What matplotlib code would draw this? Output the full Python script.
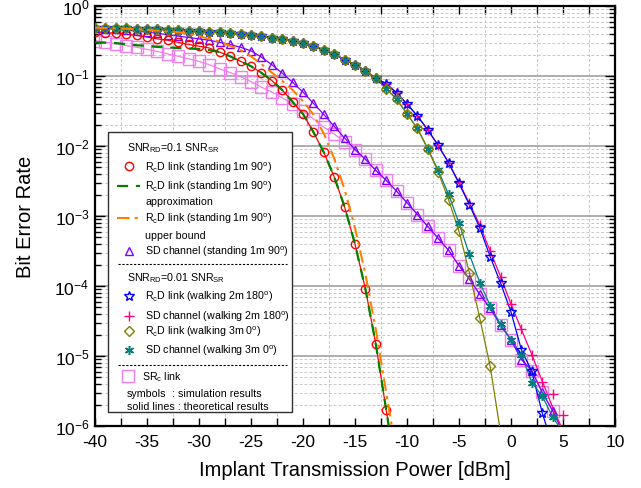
import matplotlib
matplotlib.use("Agg")
import matplotlib.pyplot as plt
import numpy as np
from matplotlib.patches import Rectangle
from matplotlib.ticker import LogLocator, MultipleLocator, NullFormatter

plt.rcParams["font.family"] = ["Liberation Sans", "DejaVu Sans"]
plt.rcParams["mathtext.fontset"] = "custom"
plt.rcParams["mathtext.rm"] = "Liberation Sans"
plt.rcParams["mathtext.it"] = "Liberation Sans:italic"
plt.rcParams["mathtext.bf"] = "Liberation Sans:bold"

# ---- data (BER vs implant power in dBm) ----
# SNR_RD = 0.1 SNR_SR, standing 1m 90 deg
rcd_stand_x = np.arange(-40, -11)
rcd_stand = [0.427, 0.417, 0.407, 0.394, 0.380, 0.359, 0.339, 0.324, 0.302, 0.282,
             0.266, 0.251, 0.219, 0.191, 0.162, 0.138, 0.111, 0.0861, 0.0631, 0.0427,
             0.0288, 0.0158, 8.13e-3, 3.63e-3, 1.35e-3, 3.98e-4, 9.12e-5, 1.48e-5, 1.70e-6]
rcd_stand_end = (-11.75, 1.0e-6)

approx_x = np.arange(-40, -11)
approx = [0.302, 0.299, 0.295, 0.285, 0.275, 0.269, 0.260, 0.257, 0.251, 0.247,
          0.243, 0.234, 0.219, 0.191, 0.162, 0.138, 0.111, 0.0861, 0.0631, 0.0427,
          0.0288, 0.0158, 8.13e-3, 3.63e-3, 1.35e-3, 3.98e-4, 9.12e-5, 1.48e-5, 1.70e-6]

upper_x = [-40, -36, -32, -30, -28, -26, -25, -24, -23, -22, -21, -20, -19, -18,
           -17, -16, -15, -14, -13, -12, -11.4]
upper = [0.490, 0.468, 0.422, 0.372, 0.309, 0.234, 0.191, 0.148, 0.112, 0.0851,
         0.0631, 0.0437, 0.0282, 0.0151, 6.61e-3, 2.40e-3, 6.76e-4, 1.48e-4, 2.40e-5,
         3.02e-6, 8.9e-7]

sd_stand_x = np.arange(-40, 5)
sd_stand = [0.479, 0.473, 0.468, 0.452, 0.437, 0.422, 0.407, 0.389, 0.372, 0.355,
            0.339, 0.324, 0.302, 0.282, 0.257, 0.229, 0.186, 0.145, 0.110, 0.0813,
            0.0589, 0.0407, 0.0282, 0.0191, 0.0130, 8.91e-3, 6.46e-3, 4.47e-3, 3.24e-3,
            2.26e-3, 1.55e-3, 1.05e-3, 7.08e-4, 4.79e-4, 3.24e-4, 1.95e-4, 1.26e-4,
            7.59e-5, 4.79e-5, 2.75e-5, 1.70e-5, 8.91e-6, 6.17e-6, 3.02e-6, 1.66e-6]
sd_stand_end = (4.7, 1.0e-6)

src_x = np.arange(-40, 5)
src = [0.321, 0.304, 0.288, 0.272, 0.257, 0.240, 0.224, 0.207, 0.191, 0.176,
       0.162, 0.145, 0.126, 0.112, 0.0977, 0.0832, 0.0692, 0.0589, 0.0490, 0.0398,
       0.0316, 0.0245, 0.0186, 0.0148, 0.0115, 8.71e-3, 6.46e-3, 4.47e-3, 3.24e-3,
       2.26e-3, 1.55e-3, 1.05e-3, 7.08e-4, 4.79e-4, 3.24e-4, 1.95e-4, 1.26e-4,
       7.59e-5, 4.79e-5, 2.75e-5, 1.70e-5, 8.91e-6, 6.17e-6, 3.02e-6, 1.66e-6]
src_end = (4.8, 1.0e-6)

# SNR_RD = 0.01 SNR_SR, walking; all four share the same high-BER part
walk_head = [0.490, 0.488, 0.484, 0.481, 0.476, 0.471, 0.466, 0.459, 0.452, 0.445,
             0.437, 0.429, 0.419, 0.407, 0.395, 0.382, 0.367, 0.351, 0.333, 0.313,
             0.292, 0.266, 0.237, 0.204, 0.172, 0.145, 0.119, 0.0933]

rcd_w2_x = np.arange(-40, 4)
rcd_w2 = walk_head + [0.0776, 0.0575, 0.0398, 0.0269, 0.0170, 0.0102, 5.75e-3,
                      2.92e-3, 1.45e-3, 6.76e-4, 2.63e-4, 1.10e-4, 4.27e-5, 1.23e-5,
                      6.03e-6, 1.55e-6]
rcd_w2_end = (3.4, 1.0e-6)

sd_w2_x = np.arange(-40, 6)
sd_w2 = walk_head + [0.0776, 0.0575, 0.0398, 0.0269, 0.0170, 0.0102, 5.75e-3,
                     3.02e-3, 1.51e-3, 7.41e-4, 3.16e-4, 1.36e-4, 5.50e-5, 2.40e-5,
                     1.05e-5, 4.27e-6, 2.88e-6, 1.45e-6]
# theory line leaves the last three simulation points
sd_w2_line_tail_x = [3, 4, 4.8]
sd_w2_line_tail = [4.37e-6, 1.86e-6, 1.0e-6]

rcd_w3_x = np.arange(-40, -1)
rcd_w3 = walk_head + [0.0661, 0.0468, 0.0288, 0.0178, 9.12e-3, 4.27e-3, 1.70e-3,
                      6.03e-4, 1.55e-4, 3.47e-5, 7.08e-6]
rcd_w3_end = (-1.1, 1.0e-6)

sd_w3_x = np.arange(-40, 5)
sd_w3 = walk_head + [0.0661, 0.0468, 0.0288, 0.0178, 9.12e-3, 4.47e-3, 2.04e-3,
                     7.94e-4, 2.82e-4, 1.12e-4, 5.25e-5, 2.82e-5, 1.70e-5, 1.05e-5,
                     4.17e-6, 2.69e-6, 1.35e-6]
sd_w3_end = (4.6, 1.0e-6)

x_ticks = [-40, -35, -30, -25, -20, -15, -10, -5, 0, 5, 10]

# colours / styles
C_RED = "#FF0000"
C_GREEN = "#008000"
C_ORANGE = "#FF8000"
C_PURPLE = "#8000FF"
C_VIOLET = "#F080F0"
C_BLUE = "#0000FF"
C_PINK = "#FF0080"
C_OLIVE = "#808000"
C_TEAL = "#008080"
ASTER = (6, 2, 0)

styles = {
    "src": dict(color=C_VIOLET, marker="s", ms=8, mfc="none", mew=1.0, lw=0.9),
    "rcd_stand": dict(color=C_RED, marker="o", ms=6, mfc="none", mew=1.0, lw=0.9),
    "sd_stand": dict(color=C_PURPLE, marker="^", ms=6, mfc="none", mew=1.0, lw=0.9),
    "rcd_w2": dict(color=C_BLUE, marker="*", ms=7.5, mfc="none", mew=1.0, lw=0.9),
    "sd_w2": dict(color=C_PINK, marker="+", ms=7, mew=1.0, lw=0.9),
    "rcd_w3": dict(color=C_OLIVE, marker="D", ms=4.8, mfc="none", mew=1.0, lw=0.9),
    "sd_w3": dict(color=C_TEAL, marker=ASTER, ms=6.5, mew=1.1, lw=0.9),
}


def marker_kw(style):
    return {k: v for k, v in style.items() if k != "lw"}


def line_and_marks(ax, x, y, style, tail_x=(), tail_y=(), z=3):
    ax.plot(list(x) + list(tail_x), list(y) + list(tail_y),
            color=style["color"], lw=style["lw"], zorder=z)
    ax.plot(x, y, ls="none", zorder=z + 0.5, **marker_kw(style))


fig = plt.figure(figsize=(6.41, 4.89), dpi=100)
ax = fig.add_axes([0.1482, 0.1268, 0.8112, 0.8589])
ax.set_yscale("log")

line_and_marks(ax, src_x, src, styles["src"], [src_end[0]], [src_end[1]], z=2)
line_and_marks(ax, sd_stand_x, sd_stand, styles["sd_stand"], [sd_stand_end[0]], [sd_stand_end[1]])
line_and_marks(ax, rcd_stand_x, rcd_stand, styles["rcd_stand"], [rcd_stand_end[0]], [rcd_stand_end[1]])
ax.plot(list(approx_x) + [rcd_stand_end[0]], approx + [rcd_stand_end[1]],
        color=C_GREEN, lw=1.6, dashes=(5, 3.5), zorder=5)
ax.plot(upper_x, upper, color=C_ORANGE, lw=1.5, dashes=(6, 2.5, 1.5, 2.5), zorder=5)

ax.plot(list(sd_w2_x[:-3]) + sd_w2_line_tail_x, sd_w2[:-3] + sd_w2_line_tail,
        color=C_PINK, lw=0.9, zorder=3)
ax.plot(sd_w2_x, sd_w2, ls="none", zorder=3.5, **marker_kw(styles["sd_w2"]))
line_and_marks(ax, rcd_w2_x, rcd_w2, styles["rcd_w2"], [rcd_w2_end[0]], [rcd_w2_end[1]])
line_and_marks(ax, sd_w3_x, sd_w3, styles["sd_w3"], [sd_w3_end[0]], [sd_w3_end[1]])
line_and_marks(ax, rcd_w3_x, rcd_w3, styles["rcd_w3"], [rcd_w3_end[0]], [rcd_w3_end[1]])

ax.set_xlim(-40, 10)
ax.set_ylim(1e-6, 1)
ax.set_xticks(x_ticks)
ax.set_xticklabels([str(t) for t in x_ticks])
ax.xaxis.set_minor_locator(MultipleLocator(2.5))
ax.yaxis.set_major_locator(LogLocator(base=10, numticks=10))
ax.yaxis.set_minor_locator(LogLocator(base=10, subs=np.arange(2, 10), numticks=100))
ax.yaxis.set_minor_formatter(NullFormatter())

ax.tick_params(which="both", direction="in", top=True, right=True, labelsize=12.5, width=1.0)
ax.tick_params(axis="x", which="both", length=6, pad=6)
ax.tick_params(axis="y", which="major", length=7, pad=4)
ax.tick_params(axis="y", which="minor", length=4)
for sp in ax.spines.values():
    sp.set_linewidth(1.6)

ax.set_axisbelow(True)
ax.yaxis.grid(True, which="major", color="#A8A8A8", lw=1.3, ls="-")
ax.yaxis.grid(True, which="minor", color="#C8C8C8", lw=0.7, ls=(0, (3, 2)))
ax.xaxis.grid(True, which="minor", color="#C8C8C8", lw=0.7, ls=(0, (3, 2)))

ax.set_xlabel("Implant Transmission Power [dBm]", fontsize=14.5, labelpad=8)
ax.set_ylabel("Bit Error Rate", fontsize=14.5, labelpad=14)

# ---- hand-made legend box ----
tr = ax.transAxes
ax.add_patch(Rectangle((0.025, 0.0333), 0.354, 0.667, transform=tr, facecolor="white",
                       edgecolor="#303030", lw=1.0, zorder=10))
fs = 7.7
mx, tx, hx = 0.0654, 0.0962, 0.0615


def leg_text(x, y, s):
    ax.text(x, y, s, transform=tr, fontsize=fs, va="center", ha="left", zorder=12)


def leg_mark(y, style, x=mx):
    ax.plot([x], [y], transform=tr, ls="none", zorder=12, clip_on=False, **marker_kw(style))


deg = r"$^\mathrm{o}$"
rc = r"R$_\mathrm{c}$D link"
leg_text(hx, 0.664, r"SNR$_\mathrm{RD}$=0.1 SNR$_\mathrm{SR}$")
leg_mark(0.618, styles["rcd_stand"])
leg_text(tx, 0.618, rc + " (standing 1m 90" + deg + ")")
ax.plot([0.0423, 0.0865], [0.571, 0.571], transform=tr, color=C_GREEN, lw=1.6,
        dashes=(5, 3.5), zorder=12)
leg_text(tx, 0.571, rc + " (standing 1m 90" + deg + ")")
leg_text(tx, 0.536, "approximation")
ax.plot([0.0423, 0.0865], [0.495, 0.495], transform=tr, color=C_ORANGE, lw=1.5,
        dashes=(6, 2.5, 1.5, 2.5), zorder=12)
leg_text(tx, 0.495, rc + " (standing 1m 90" + deg + ")")
leg_text(tx, 0.455, "upper bound")
leg_mark(0.417, styles["sd_stand"])
leg_text(tx, 0.417, "SD channel (standing 1m 90" + deg + ")")
ax.plot([0.044, 0.369], [0.386, 0.386], transform=tr, color="black", lw=0.8,
        dashes=(2, 1.5), zorder=12)
leg_text(hx, 0.355, r"SNR$_\mathrm{RD}$=0.01 SNR$_\mathrm{SR}$")
leg_mark(0.310, styles["rcd_w2"])
leg_text(tx, 0.310, rc + " (walking 2m 180" + deg + ")")
leg_mark(0.262, styles["sd_w2"])
leg_text(tx, 0.262, "SD channel (walking 2m 180" + deg + ")")
leg_mark(0.226, styles["rcd_w3"])
leg_text(tx, 0.226, rc + " (walking 3m 0" + deg + ")")
leg_mark(0.181, styles["sd_w3"])
leg_text(tx, 0.181, "SD channel (walking 3m 0" + deg + ")")
ax.plot([0.044, 0.369], [0.145, 0.145], transform=tr, color="black", lw=0.8,
        dashes=(2, 1.5), zorder=12)
leg_mark(0.119, styles["src"], x=0.063)
leg_text(0.090, 0.119, r"SR$_\mathrm{c}$ link")
leg_text(hx, 0.0786, "symbols")
leg_text(0.148, 0.0786, ": simulation results")
leg_text(hx, 0.0476, "solid lines : theoretical results")

fig.savefig("out.png", dpi=100)
